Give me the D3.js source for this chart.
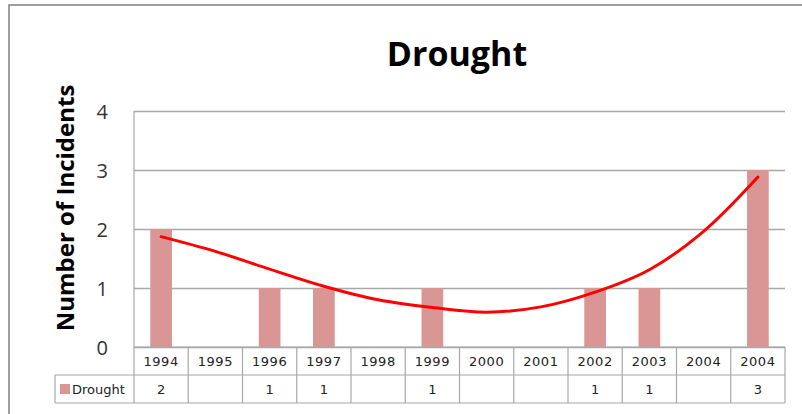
<!DOCTYPE html>
<html>
<head>
<meta charset="utf-8">
<script src="https://cdn.jsdelivr.net/npm/d3@7"></script>
<style>
  body { margin: 0; background: #fff; }
  svg { display: block; }
  .grid line { stroke: #a8a8a8; stroke-width: 1.3; }
  .grid .domain { display: none; }
  .grid text { font-family: "Open Sans", sans-serif; font-size: 20px; fill: #333; }
  .tbl line { stroke: #a8a8a8; stroke-width: 1.2; }
  .tbl text { font-family: "DejaVu Sans", sans-serif; font-size: 13px; fill: #222; }
  .tbl .cat { letter-spacing: 0.5px; }
</style>
</head>
<body>
<div class="chart"></div>
<script>
// categories (the last two really are both "2004" in the source)
const categories = ['1994','1995','1996','1997','1998','1999','2000','2001','2002','2003','2004','2004'];
// drought incidents, null = empty cell
const drought = [2, null, 1, 1, null, 1, null, null, 1, 1, null, 3];
// trend line values read at each category
const trend = [1.87, 1.62, 1.32, 1.03, 0.80, 0.67, 0.59, 0.68, 0.93, 1.31, 1.96, 2.88];
const yTicks = [0, 1, 2, 3, 4];

const W = 802, H = 414;
const plot = {left: 134, right: 785, top: 111, bottom: 347};
const rowH = 28;
const legendLeft = 55;

const svg = d3.select('.chart').append('svg')
    .attr('width', W).attr('height', H);

// outer frame
svg.append('rect')
    .attr('x', 9).attr('y', 5)
    .attr('width', 900).attr('height', 500)
    .attr('fill', '#fff')
    .attr('stroke', '#888').attr('stroke-width', 1.6);

// scales
const idx = d3.range(categories.length);
const xScale = d3.scaleBand()
    .domain(idx)
    .range([plot.left, plot.right])
    .padding(0);
const barW = xScale.bandwidth() * 0.4;
const yScale = d3.scaleLinear()
    .domain([0, 4])
    .range([plot.bottom, plot.top]);

// gridlines + y tick labels
const yAxis = d3.axisLeft(yScale)
    .tickValues(yTicks)
    .tickFormat(d3.format('d'))
    .tickSizeInner(-(plot.right - plot.left))
    .tickSizeOuter(0)
    .tickPadding(26);
svg.append('g')
    .attr('class', 'grid')
    .attr('transform', `translate(${plot.left},0)`)
    .call(yAxis)
    .selectAll('text').attr('dy', '0.36em');

// plot left edge
svg.append('line')
    .attr('x1', plot.left).attr('x2', plot.left)
    .attr('y1', plot.top).attr('y2', plot.bottom + 2 * rowH)
    .attr('stroke', '#a8a8a8').attr('stroke-width', 1.2);

// bars
svg.selectAll('.bar')
    .data(idx.filter(i => drought[i]))
    .enter().append('rect')
    .attr('class', 'bar')
    .attr('x', i => xScale(i) + (xScale.bandwidth() - barW) / 2)
    .attr('y', i => yScale(drought[i]))
    .attr('width', barW)
    .attr('height', i => yScale(0) - yScale(drought[i]))
    .attr('fill', '#d99694');

// trend line
const line = d3.line()
    .x(i => xScale(i) + xScale.bandwidth() / 2)
    .y(i => yScale(trend[i]))
    .curve(d3.curveCatmullRom);
svg.append('path')
    .datum(idx)
    .attr('d', line)
    .attr('fill', 'none')
    .attr('stroke', '#ff0000')
    .attr('stroke-width', 3)
    .attr('stroke-linecap', 'round');

// data table
const tbl = svg.append('g').attr('class', 'tbl');
const y0 = plot.bottom, y1 = plot.bottom + rowH, y2 = plot.bottom + 2 * rowH;
tbl.append('line').attr('x1', plot.left).attr('x2', plot.right).attr('y1', y0).attr('y2', y0);
tbl.append('line').attr('x1', legendLeft).attr('x2', plot.right).attr('y1', y1).attr('y2', y1);
tbl.append('line').attr('x1', legendLeft).attr('x2', plot.right).attr('y1', y2).attr('y2', y2);
tbl.append('line').attr('x1', legendLeft).attr('x2', legendLeft).attr('y1', y1).attr('y2', y2);
tbl.selectAll('.sep')
    .data(idx.map(i => xScale(i) + xScale.bandwidth()))
    .enter().append('line')
    .attr('class', 'sep')
    .attr('x1', d => d).attr('x2', d => d)
    .attr('y1', y0).attr('y2', y2);

tbl.selectAll('.cat')
    .data(idx)
    .enter().append('text')
    .attr('class', 'cat')
    .attr('x', i => xScale(i) + xScale.bandwidth() / 2)
    .attr('y', y0 + 19)
    .attr('text-anchor', 'middle')
    .text(i => categories[i]);

tbl.selectAll('.val')
    .data(idx.filter(i => drought[i] != null))
    .enter().append('text')
    .attr('class', 'val')
    .attr('x', i => xScale(i) + xScale.bandwidth() / 2)
    .attr('y', y1 + 19)
    .attr('text-anchor', 'middle')
    .text(i => drought[i]);

// legend key in table
tbl.append('rect')
    .attr('x', 60).attr('y', y1 + 9)
    .attr('width', 10).attr('height', 10)
    .attr('fill', '#d99694');
tbl.append('text')
    .attr('x', 72).attr('y', y1 + 19)
    .text('Drought');

// title
svg.append('text')
    .attr('x', 457).attr('y', 66)
    .attr('text-anchor', 'middle')
    .style('font-family', '"Open Sans", sans-serif')
    .style('font-weight', 'bold')
    .style('font-size', '34px')
    .style('fill', '#000')
    .text('Drought');

// y axis title
svg.append('text')
    .attr('transform', 'translate(74,208) rotate(-90)')
    .attr('text-anchor', 'middle')
    .style('font-family', '"Open Sans", sans-serif')
    .style('font-weight', 'bold')
    .style('font-size', '24px')
    .style('fill', '#000')
    .text('Number of Incidents');
</script>
</body>
</html>
